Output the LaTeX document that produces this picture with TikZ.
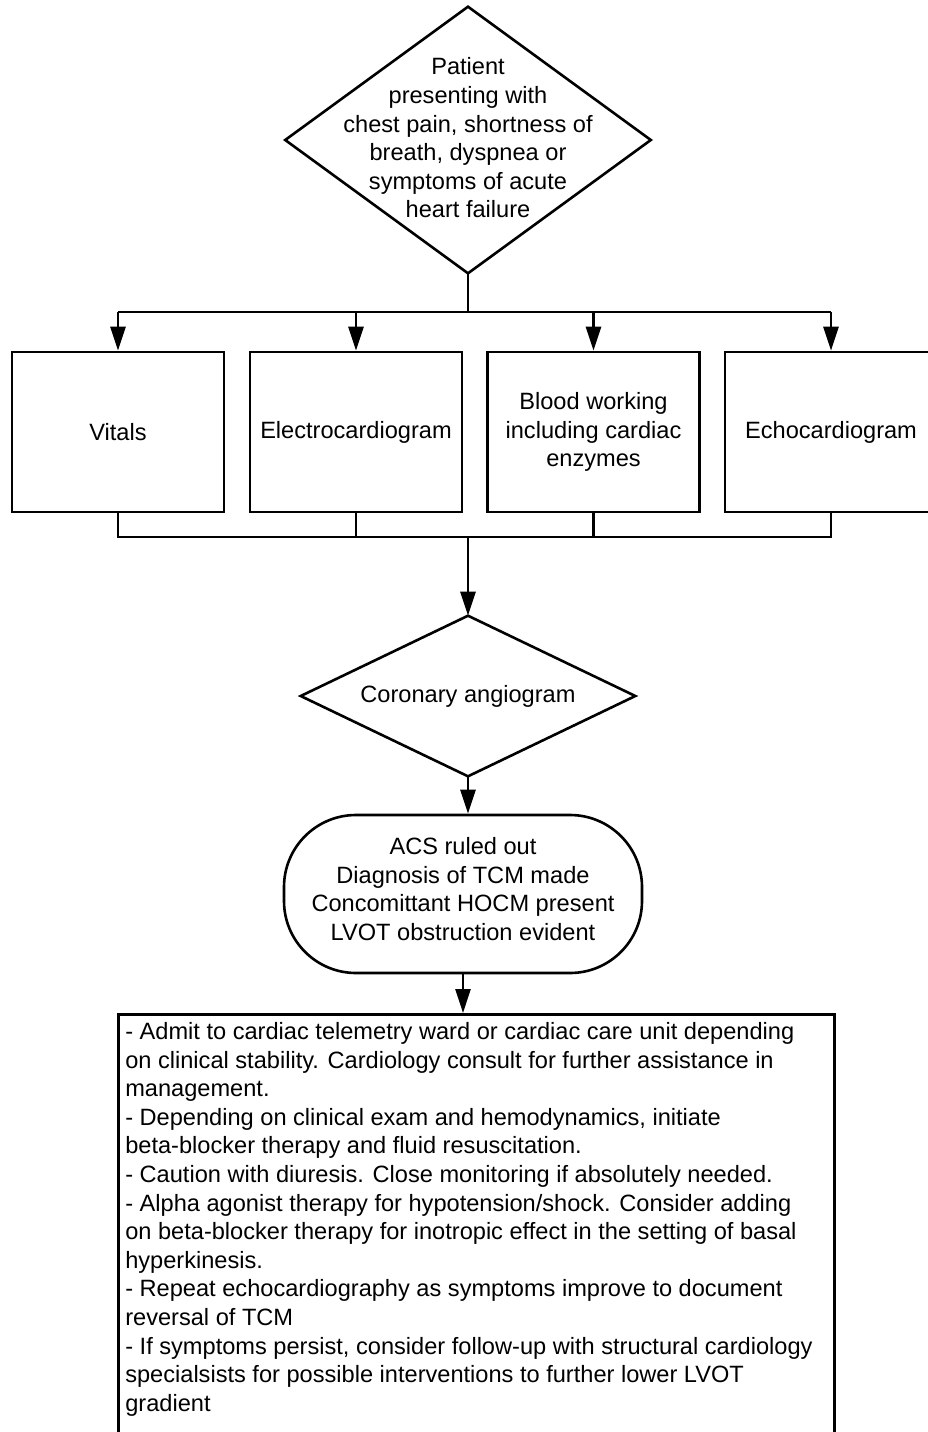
\documentclass[tikz,border=0pt]{standalone}
\usepackage{fontspec}
\setmainfont{Liberation Sans}
\usetikzlibrary{arrows.meta}
\begin{document}
\begin{tikzpicture}[x=1pt,y=-1pt, line width=2.6pt,
  every node/.style={font=\fontsize{23.6}{28.6}\selectfont, inner sep=0pt},
  arr/.style={-{Triangle[length=24pt,width=15pt]}},
  boxnode/.style={draw, minimum width=212pt, minimum height=160pt, align=center}]
\useasboundingbox (0,0) rectangle (928,1432);
\fill[white] (0,0) rectangle (928,1432);
\clip (0,0) rectangle (928,1432);

% start diamond
\node[minimum width=363pt, minimum height=264pt] (start) at (468,140) {};
\draw (start.north) -- (start.east) -- (start.south) -- (start.west) -- cycle;
\node[align=center] (starttext) at (468,138)
  {Patient\\presenting with\\chest pain, shortness of\\breath, dyspnea or\\symptoms of acute\\heart failure};

% four boxes
\node[boxnode] (vit) at (118,432) {Vitals};
\node[boxnode] (ecg) at (356,432) {Electrocardiogram};
\node[boxnode] (blood) at (593.5,432) {Blood working\\including cardiac\\enzymes};
\node[boxnode] (echo) at (831,432) {Echocardiogram};

% top bus
\coordinate (bus) at (468,312);
\draw (start.south) -- (bus);
\draw (vit.north |- bus) -- (echo.north |- bus);
\draw[arr] (vit.north |- bus) -- (vit.north);
\draw[arr] (ecg.north |- bus) -- (ecg.north);
\draw[arr] (blood.north |- bus) -- (blood.north);
\draw[arr] (echo.north |- bus) -- (echo.north);

% coronary diamond
\node[minimum width=332pt, minimum height=158pt] (cor) at (468,696) {Coronary angiogram};
\draw (cor.north) -- (cor.east) -- (cor.south) -- (cor.west) -- cycle;

% bottom bus
\coordinate (bus2) at (468,537);
\draw (vit.south) -- (vit.south |- bus2) -- (echo.south |- bus2) -- (echo.south);
\draw (ecg.south) -- (ecg.south |- bus2);
\draw (blood.south) -- (blood.south |- bus2);
\draw[arr] (bus2) -- (cor.north);

% ACS terminal
\node[draw, rounded corners=72pt, minimum width=358pt, minimum height=158pt] (acs) at (463,894) {};
\node[align=center] (acstext) at (463,889)
  {ACS ruled out\\Diagnosis of TCM made\\Concomittant HOCM present\\LVOT obstruction evident};
\draw[arr] (cor.south) -- (cor.south |- acs.north);

% plan box
\node[draw, minimum width=716pt, minimum height=470pt, anchor=north west] (plan) at (117,1013) {};
\draw[arr] (acs.south) -- (acs.south |- plan.north);
\node[anchor=north west, align=left] (plantext) at ([xshift=7pt,yshift=-8pt]plan.north west)
  {- Admit to cardiac telemetry ward or cardiac care unit depending\\
on clinical stability. Cardiology consult for further assistance in\\
management.\\
- Depending on clinical exam and hemodynamics, initiate\\
beta-blocker therapy and fluid resuscitation.\\
- Caution with diuresis. Close monitoring if absolutely needed.\\
- Alpha agonist therapy for hypotension/shock. Consider adding\\
on beta-blocker therapy for inotropic effect in the setting of basal\\
hyperkinesis.\\
- Repeat echocardiography as symptoms improve to document\\
reversal of TCM\\
- If symptoms persist, consider follow-up with structural cardiology\\
specialsists for possible interventions to further lower LVOT\\
gradient};
\end{tikzpicture}
\end{document}
